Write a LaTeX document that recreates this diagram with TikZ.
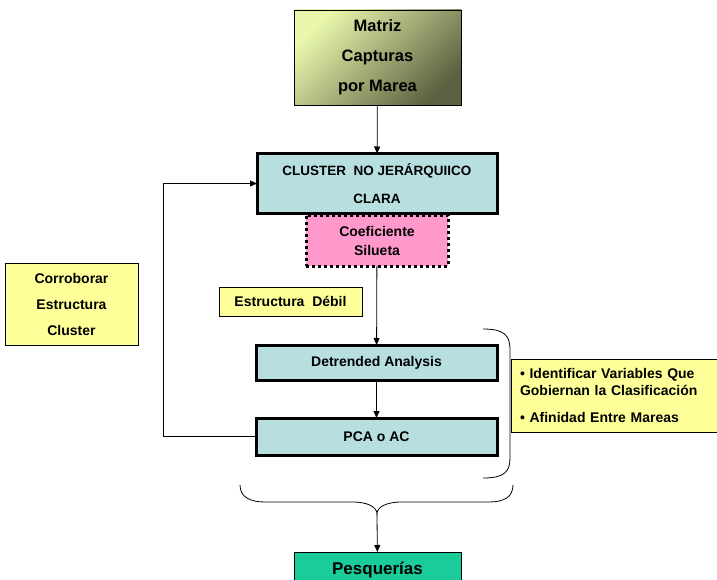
\documentclass[tikz,border=0pt]{standalone}
\usepackage{fontspec}
\setmainfont{Liberation Sans}
\usetikzlibrary{arrows.meta,calc}
\definecolor{clblue}{HTML}{B8DFE0}
\definecolor{pinkfill}{HTML}{FF99CC}
\definecolor{yellowfill}{HTML}{FFFF99}
\definecolor{pesqfill}{HTML}{19CC9A}
\definecolor{olivelight}{HTML}{E8F7AC}
\definecolor{olivedark}{HTML}{5C6342}
\begin{document}
\begin{tikzpicture}[x=1pt,y=-1pt,
  box/.style={draw=black, inner sep=0pt, outer sep=0pt, align=center,
    font=\bfseries\fontsize{14}{27}\selectfont},
  thickbox/.style={box, fill=clblue, line width=3pt},
  notebox/.style={box, fill=yellowfill, line width=0.8pt},
  arr/.style={-{Triangle[length=7pt,width=6pt]}, line width=0.8pt},
  brace/.style={line width=0.8pt},
]
\useasboundingbox (0,0) rectangle (717,580);

\node[box, line width=0.8pt, minimum width=167, minimum height=95,
  shading=axis, top color=olivelight, bottom color=olivedark, shading angle=45,
  font=\bfseries\fontsize{16.5}{30}\selectfont] (matriz) at (377.5,57.5)
  {Matriz\\Capturas\\por Marea};

\node[thickbox, minimum width=240, minimum height=60,
  font=\bfseries\fontsize{13.5}{28}\selectfont] (cluster) at (377,183.5)
  {CLUSTER\ \ NO JERÁRQUIICO\\CLARA};

\node[box, fill=pinkfill, line width=3pt, dash pattern=on 3pt off 3pt,
  minimum width=142, minimum height=51,
  font=\bfseries\fontsize{14}{19}\selectfont] (silueta) at (377,240.5)
  {Coeficiente\\Silueta};

\node[notebox, minimum width=133, minimum height=82,
  font=\bfseries\fontsize{14}{26}\selectfont] (corro) at (71.5,304)
  {Corroborar\\Estructura\\Cluster};

\node[notebox, minimum width=143, minimum height=29] (debil) at (290.5,301.5)
  {Estructura\ \ Débil};

\node[thickbox, minimum width=241, minimum height=35] (detr) at (376.5,362.5)
  {Detrended Analysis};

\node[thickbox, minimum width=241, minimum height=37] (pca) at (376.5,436.5)
  {PCA o AC};

\node[notebox, minimum width=229, minimum height=73, align=left,
  text width=211pt, inner xsep=9pt,
  font=\bfseries\fontsize{14}{17}\selectfont] (ident) at (625.5,395.5)
  {• Identificar Variables Que\\Gobiernan la Clasificación\\[10pt]• Afinidad Entre Mareas};

\node[box, fill=pesqfill, line width=0.8pt, minimum width=167, minimum height=36,
  font=\bfseries\fontsize{17}{20}\selectfont] (pesq) at (377.5,570)
  {Pesquerías};

% connectors
\draw[arr] (matriz) -- (cluster);
\draw[arr] (silueta) -- (detr);
\draw[arr] (detr) -- (pca);
\draw[arr] (pca.west) -- ++(-93,0) |- (cluster.west);

% right bracket
\draw[brace] (483,329) .. controls (504,329) and (510,335) .. (510,350)
  -- (510,458) .. controls (510,472) and (504,478) .. (483,478);

% bottom brace
\coordinate (tip) at (377,514);
\draw[brace] (240,485) .. controls (240,497) and (250,502) .. (265,502)
  -- (352,502) .. controls (368,502) and (377,507) .. (tip)
  .. controls (377,507) and (386,502) .. (402,502)
  -- (489,502) .. controls (504,502) and (513,497) .. (513,485);
\draw[arr] (tip) -- (pesq);
\end{tikzpicture}
\end{document}
